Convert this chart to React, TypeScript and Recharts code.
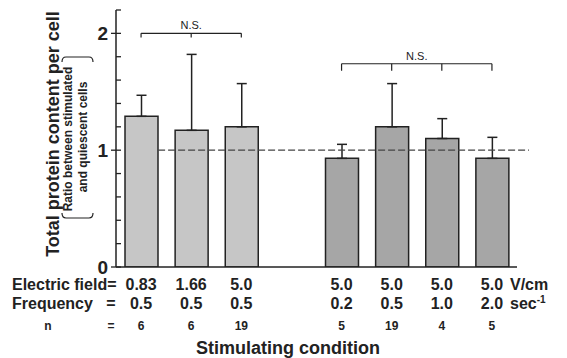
import { BarChart, Bar, XAxis, YAxis, ErrorBar, Cell, ReferenceLine, Label } from "recharts";

const FONT = "'Liberation Sans', Arial, sans-serif";
const INK = "#222";

// one slot per condition, an empty slot separates the two series of experiments
const conditions = ["c1", "c2", "c3", "gap", "c4", "c5", "c6", "c7"];
const fieldStrength = ["0.83", "1.66", "5.0", "", "5.0", "5.0", "5.0", "5.0"];
const frequency = ["0.5", "0.5", "0.5", "", "0.2", "0.5", "1.0", "2.0"];
const nCells = ["6", "6", "19", "", "5", "19", "4", "5"];
const meanRatio = [1.29, 1.17, 1.2, null, 0.93, 1.2, 1.1, 0.93];
const sdUpper = [0.18, 0.65, 0.37, null, 0.12, 0.37, 0.17, 0.18];
const series = ["a", "a", "a", "", "b", "b", "b", "b"];
const yTicks = [0, 0.2, 0.4, 0.6, 0.8, 1, 1.2, 1.4, 1.6, 1.8, 2, 2.2];

// N.S. brackets: which slots they join and at what height
const nsGroups = [
  { slots: [0, 1, 2], level: 2.0, drop: 0.035 },
  { slots: [4, 5, 6, 7], level: 1.74, drop: 0.06 },
];

const data = conditions.map((c, i) => ({
  name: c,
  pos: i + 0.5,
  value: meanRatio[i],
  err: sdUpper[i] == null ? null : [0, sdUpper[i]],
}));

const fills: Record<string, string> = { a: "#c6c6c6", b: "#a6a6a6" };

function YTick(props: any) {
  const { x, y, payload } = props;
  const major = Number.isInteger(payload.value);
  return (
    <g>
      <line x1={major ? x - 5 : x} x2={x + 5} y1={y} y2={y} stroke={INK} strokeWidth={1.3} />
      {major && (
        <text x={x - 8} y={y} dy="0.36em" textAnchor="end" fontSize={19} fontWeight="bold" fontFamily={FONT} fill={INK}>
          {payload.value}
        </text>
      )}
    </g>
  );
}

function XTick(props: any) {
  const { x, y, index } = props;
  return (
    <g fontFamily={FONT} fontWeight="bold" fill={INK} textAnchor="middle">
      <text x={x} y={y + 23} fontSize={16}>{fieldStrength[index]}</text>
      <text x={x} y={y + 42} fontSize={16}>{frequency[index]}</text>
      <text x={x} y={y + 63} fontSize={12}>{nCells[index]}</text>
    </g>
  );
}

function XTitle(props: any) {
  const { x, y } = props.viewBox;
  return (
    <g fontFamily={FONT} fontWeight="bold" fill={INK}>
      <text x={12} y={y + 23} fontSize={16}>Electric field=</text>
      <text x={12} y={y + 42} fontSize={16}>Frequency</text>
      <text x={111} y={y + 42} fontSize={16} textAnchor="middle">=</text>
      <text x={48} y={y + 63} fontSize={12} textAnchor="middle">n</text>
      <text x={111} y={y + 63} fontSize={12} textAnchor="middle">=</text>
      <text x={510} y={y + 23} fontSize={16}>V/cm</text>
      <text x={510} y={y + 42} fontSize={16}>
        sec<tspan fontSize={10} dy={-6}>-1</tspan>
      </text>
      <text x={x + 172} y={y + 87} fontSize={18} textAnchor="middle">Stimulating condition</text>
    </g>
  );
}

function YTitle() {
  return (
    <g fontFamily={FONT} fontWeight="bold" fill={INK} textAnchor="middle">
      <text transform="translate(53,134) rotate(-90)" dy="0.35em" fontSize={18}>
        Total protein content per cell
      </text>
      <text transform="translate(68,139) rotate(-90)" dy="0.35em" fontSize={12}>
        Ratio between stimulated
      </text>
      <text transform="translate(83,137) rotate(-90)" dy="0.35em" fontSize={12}>
        and  quiescent cells
      </text>
      <path d="M62 62 Q62 57 66 57 L89 57 Q93 57 93 62" fill="none" stroke={INK} strokeWidth={1.2} />
      <path d="M62 213 Q62 218 66 218 L89 218 Q93 218 93 213" fill="none" stroke={INK} strokeWidth={1.2} />
    </g>
  );
}

export default function App() {
  return (
    <div style={{ width: 567, height: 358, background: "#fff" }}>
      <style>{`body{margin:0}`}</style>
      <BarChart
        width={567}
        height={358}
        data={data}
        margin={{ top: 10, right: 50, left: 56, bottom: 71 }}
      >
        <XAxis
          dataKey="name"
          height={20}
          interval={0}
          tickLine={false}
          tickSize={0}
          tickMargin={0}
          tick={<XTick />}
          axisLine={{ stroke: INK, strokeWidth: 1.5 }}
        >
          <Label content={<XTitle />} />
        </XAxis>
        <XAxis xAxisId="n" dataKey="pos" type="number" domain={[0, 8]} allowDataOverflow hide />
        <YAxis
          width={60}
          domain={[0, 2.2]}
          ticks={yTicks}
          interval={0}
          tickLine={false}
          tickSize={0}
          tickMargin={0}
          tick={<YTick />}
          axisLine={{ stroke: INK, strokeWidth: 1.5 }}
          allowDataOverflow
        >
          <Label content={<YTitle />} />
        </YAxis>
        <Bar dataKey="value" barSize={33} stroke={INK} strokeWidth={1.5} isAnimationActive={false}>
          {data.map((d, i) => (
            <Cell key={d.name} fill={fills[series[i]] || "none"} />
          ))}
          <ErrorBar dataKey="err" width={5} stroke={INK} strokeWidth={1.5} direction="y" />
        </Bar>
        <ReferenceLine
          xAxisId="n"
          segment={[{ x: 0.84, y: 1 }, { x: 8.24, y: 1 }]}
          stroke="#444"
          strokeWidth={1.3}
          strokeDasharray="7 3"
          ifOverflow="visible"
        />
        {nsGroups.map((g, gi) => {
          const first = g.slots[0] + 0.5;
          const last = g.slots[g.slots.length - 1] + 0.5;
          return [
            <ReferenceLine
              key={`ns${gi}`}
              xAxisId="n"
              segment={[{ x: first, y: g.level }, { x: last, y: g.level }]}
              stroke={INK}
              strokeWidth={1.2}
              ifOverflow="visible"
              label={{ value: "N.S.", position: "top", fontSize: 11, fill: INK, fontFamily: FONT, offset: 4 }}
            />,
            ...g.slots.map((s) => (
              <ReferenceLine
                key={`ns${gi}-${s}`}
                xAxisId="n"
                segment={[{ x: s + 0.5, y: g.level }, { x: s + 0.5, y: g.level - g.drop }]}
                stroke={INK}
                strokeWidth={1.2}
                ifOverflow="visible"
              />
            )),
          ];
        })}
      </BarChart>
    </div>
  );
}
